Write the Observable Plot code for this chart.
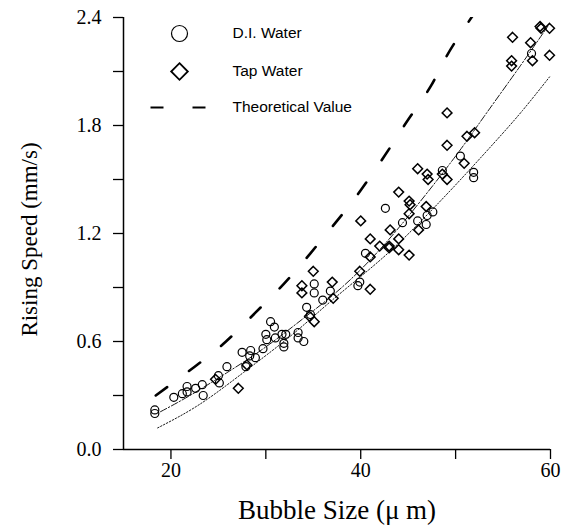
<!DOCTYPE html>
<html>
<head>
<meta charset="utf-8">
<script src="https://cdn.jsdelivr.net/npm/d3@7"></script>
<script src="https://cdn.jsdelivr.net/npm/@observablehq/plot@0.6"></script>
<style>
  html, body { margin: 0; padding: 0; background: #fff; }
</style>
</head>
<body>
<div id="chart"></div>
<script>
// ---- data ----
const diX = [18.3,18.3,20.3,21.2,21.7,21.7,22.6,23.3,23.4,25.0,25.1,25.9,27.5,28.4,28.3,27.9,28.9,29.7,30.0,30.1,30.5,30.9,31.0,31.7,31.9,31.9,32.1,33.4,33.4,34.0,34.3,34.7,35.1,35.1,36.0,36.8,39.7,39.9,40.5,42.6,44.4,46.0,46.9,47.0,47.6,48.6,50.5,51.9,51.9,58.0];
const diY = [0.20,0.22,0.29,0.31,0.35,0.32,0.34,0.36,0.30,0.41,0.37,0.46,0.54,0.55,0.52,0.46,0.51,0.56,0.64,0.61,0.71,0.68,0.62,0.64,0.57,0.59,0.64,0.65,0.62,0.60,0.79,0.75,0.92,0.87,0.83,0.88,0.91,0.93,1.09,1.34,1.26,1.27,1.25,1.30,1.32,1.55,1.63,1.51,1.54,2.20];

const tapX = [24.7,27.1,28.0,33.8,33.8,35.0,34.6,35.1,37.0,37.1,39.9,41.0,41.0,40.0,41.0,42.0,43.0,43.0,43.1,44.0,44.0,44.0,45.1,45.2,45.1,45.1,46.0,46.1,46.9,47.0,47.1,48.6,49.1,49.1,49.1,50.9,51.2,52.0,55.9,55.9,56.0,57.9,58.1,58.9,59.0,59.9,59.9];
const tapY = [0.39,0.34,0.47,0.91,0.87,0.99,0.74,0.71,0.93,0.84,0.99,0.89,1.07,1.27,1.17,1.13,1.13,1.12,1.22,1.43,1.17,1.11,1.38,1.36,1.31,1.08,1.56,1.22,1.35,1.53,1.50,1.53,1.50,1.69,1.87,1.59,1.74,1.76,2.13,2.16,2.29,2.26,2.16,2.35,2.34,2.34,2.19];

const theoX = [18.4,22.5,25.8,28.9,31.9,34.7,37.5,40.0,43.0,45.1,47.4,49.1,51.8];
const theoY = [0.30,0.46,0.60,0.76,0.92,1.09,1.27,1.44,1.67,1.84,2.02,2.19,2.41];

const fitTapX = [18.9,22,26,30,34,38,42,46,50,53,56.8,59.7];
const fitTapY = [0.21,0.30,0.43,0.57,0.73,0.90,1.11,1.36,1.63,1.85,2.13,2.35];

const fitDiX = [18.6,23,27.7,32.6,37,42,46,50,54,57,59.9];
const fitDiY = [0.12,0.25,0.43,0.63,0.83,1.05,1.25,1.47,1.70,1.88,2.07];

const xDomain = [15, 60];
const yDomain = [0, 2.4];
const xTicks = [20, 30, 40, 50, 60];
const xTickLabels = [20, 40, 60];
const yTicks = [0, 0.3, 0.6, 0.9, 1.2, 1.5, 1.8, 2.1, 2.4];
const yTickLabels = [0, 0.6, 1.2, 1.8, 2.4];

const xLabel = "Bubble Size (\u03bc m)";
const yLabel = "Rising Speed (mm/s)";
const legendLabels = ["D.I. Water", "Tap Water", "Theoretical Value"];

// ---- helpers ----
const di = diX.map((x, i) => ({x, y: diY[i]}));
const tap = tapX.map((x, i) => ({x, y: tapY[i]}));
const theo = theoX.map((x, i) => ({x, y: theoY[i]}));
const fitTap = fitTapX.map((x, i) => ({x, y: fitTapY[i]}));
const fitDi = fitDiX.map((x, i) => ({x, y: fitDiY[i]}));

const dashSymbol = {
  draw(context) {
    context.moveTo(-27.5, 0);
    context.lineTo(27.5, 0);
  }
};

const serif = "'Liberation Serif', 'Times New Roman', serif";
const sans = "'Liberation Sans', Arial, sans-serif";

const chart = Plot.plot({
  width: 570,
  height: 528,
  marginLeft: 123,
  marginRight: 20,
  marginTop: 17,
  marginBottom: 79,
  style: {background: "#fff", color: "#000", fontFamily: serif, overflow: "visible"},
  x: {domain: xDomain},
  y: {domain: yDomain},
  marks: [
    Plot.axisX({
      ticks: xTicks,
      tickSize: 10,
      tickPadding: 3,
      tickFormat: d => xTickLabels.includes(d) ? String(d) : "",
      fontSize: 20,
      fontFamily: serif,
      strokeWidth: 1.3,
      label: null
    }),
    Plot.axisY({
      ticks: yTicks,
      tickSize: 10,
      tickPadding: 12,
      tickFormat: d => yTickLabels.includes(d) ? d3.format(".1f")(d) : "",
      fontSize: 20,
      fontFamily: serif,
      strokeWidth: 1.3,
      label: null
    }),
    Plot.ruleX([xDomain[0]], {stroke: "#000", strokeWidth: 1.5}),
    Plot.ruleY([yDomain[0]], {stroke: "#000", strokeWidth: 1.5}),

    Plot.line(theo, {x: "x", y: "y", curve: "natural", stroke: "#000", strokeWidth: 2.6, strokeDasharray: "14,27", clip: true}),
    Plot.line(fitTap, {x: "x", y: "y", curve: "natural", stroke: "#000", strokeWidth: 0.9, strokeDasharray: "7,2,1.5,2"}),
    Plot.line(fitDi, {x: "x", y: "y", curve: "natural", stroke: "#000", strokeWidth: 0.9, strokeDasharray: "1.5,1.8"}),

    Plot.dot(di, {x: "x", y: "y", symbol: "circle", r: 4, stroke: "#000", strokeWidth: 1.2, fill: "none"}),
    Plot.dot(tap, {x: "x", y: "y", symbol: "diamond2", r: 4.4, stroke: "#000", strokeWidth: 1.5, fill: "none"}),

    // legend
    Plot.dot([0], {frameAnchor: "top-left", dx: 56, dy: 16, symbol: "circle", r: 8, stroke: "#000", strokeWidth: 1.2, fill: "none"}),
    Plot.dot([0], {frameAnchor: "top-left", dx: 56, dy: 54, symbol: "diamond2", r: 7.5, stroke: "#000", strokeWidth: 1.8, fill: "none"}),
    Plot.dot([0], {frameAnchor: "top-left", dx: 54.5, dy: 90, symbol: dashSymbol, stroke: "#000", strokeWidth: 2.2, strokeDasharray: "13,29", fill: "none"}),
    ...legendLabels.map((t, i) => Plot.text([t], {
      frameAnchor: "top-left", dx: 109, dy: [16, 54, 90][i],
      textAnchor: "start", lineAnchor: "middle", fontSize: 15.5, fontFamily: sans, fill: "#000", letterSpacing: "0.4px"
    })),

    // axis titles
    Plot.text([xLabel], {frameAnchor: "bottom", dy: 61, lineAnchor: "middle", textAnchor: "middle", fontSize: 27, fontFamily: serif, fill: "#000"}),
    Plot.text([yLabel], {frameAnchor: "left", dx: -94, dy: 6, rotate: -90, textAnchor: "middle", lineAnchor: "middle", fontSize: 23, fontFamily: serif, fill: "#000", letterSpacing: "1.2px"})
  ]
});

document.getElementById("chart").append(chart);
</script>
</body>
</html>
